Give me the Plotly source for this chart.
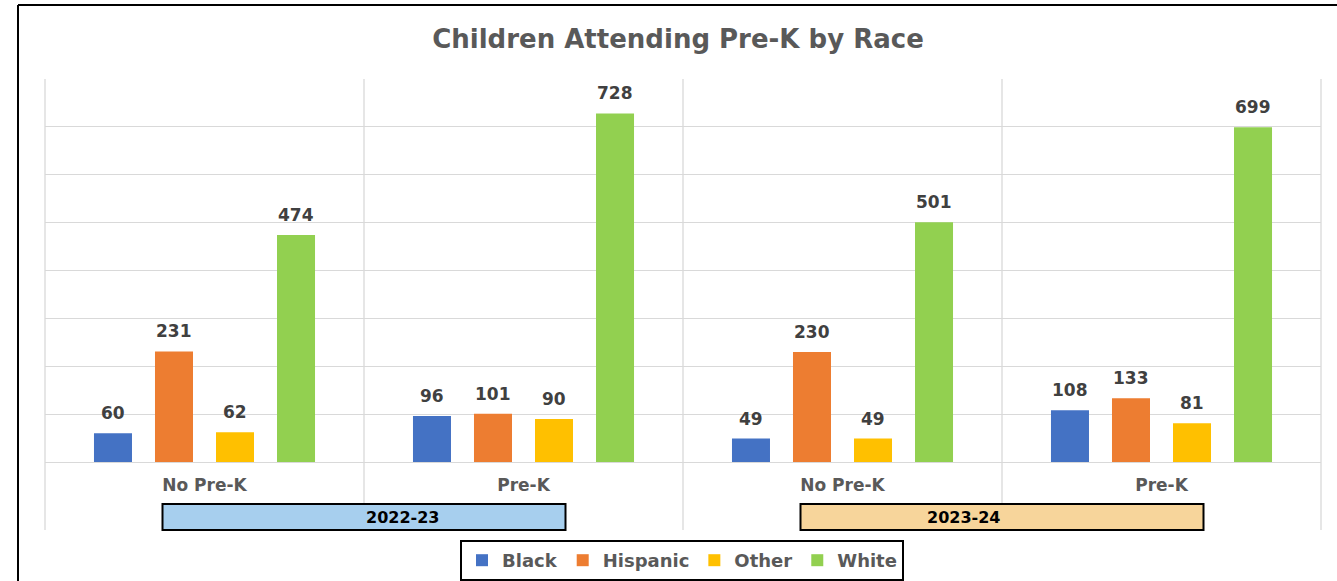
import plotly.graph_objects as go

# ---- data ----
categories = ["No Pre-K", "Pre-K", "No Pre-K", "Pre-K"]
years = ["2022-23", "2023-24"]
series_names = ["Black", "Hispanic", "Other", "White"]
black = [60, 96, 49, 108]
hispanic = [231, 101, 230, 133]
other = [62, 90, 49, 81]
white = [474, 728, 501, 699]
y_ticks = [0, 100, 200, 300, 400, 500, 600, 700, 800]

series_values = [black, hispanic, other, white]
colors = ["#4472C4", "#ED7D31", "#FFC000", "#92D050"]
year_fills = ["#A7CFEE", "#F7D59B"]

FONT = "DejaVu Sans"
GRAY = "#595959"
LABEL = "#404040"
GRID = "#D9D9D9"

W, H = 1337, 581
ML, MR, MT, MB = 45, 16, 79, 119
PW, PH = W - ML - MR, H - MT - MB

def px_x(px):
    return (px - ML) / PW

def px_y(py):
    return (H - MB - py) / PH

BARGAP = 0.235
BARGROUPGAP = 0.377
n_series = len(series_names)
slot = (1 - BARGAP) / n_series

x_pos = list(range(len(categories)))

fig = go.Figure()
for name, vals, col in zip(series_names, series_values, colors):
    fig.add_trace(go.Bar(
        x=x_pos, y=vals, name=name,
        marker=dict(color=col, line=dict(width=0)),
        hoverinfo="y+name",
    ))

annotations = []
# data labels
for j, vals in enumerate(series_values):
    for i, v in enumerate(vals):
        annotations.append(dict(
            x=i + (j - (n_series - 1) / 2) * slot, y=v, xref="x", yref="y",
            text=f"<b>{v}</b>", showarrow=False, yanchor="bottom", yshift=8,
            font=dict(family=FONT, size=17, color=LABEL),
        ))

shapes = []
# vertical separators between categories
n_cat = len(categories)
for k in range(n_cat + 1):
    shapes.append(dict(type="line", xref="paper", yref="paper",
                       x0=k / n_cat, x1=k / n_cat, y0=px_y(530), y1=1,
                       line=dict(color=GRID, width=1.3), layer="below"))

# year boxes
per_year = n_cat // len(years)
box_w = 403 / PW
for yi, (yr, fill) in enumerate(zip(years, year_fills)):
    cx = (yi * per_year + per_year / 2) / n_cat
    shapes.append(dict(type="rect", xref="paper", yref="paper",
                       x0=cx - box_w / 2, x1=cx + box_w / 2,
                       y0=px_y(530), y1=px_y(504),
                       fillcolor=fill, line=dict(color="black", width=2)))
    annotations.append(dict(x=cx, y=(px_y(530) + px_y(504)) / 2, xref="paper", yref="paper",
                            text=f"<b>{yr}</b>", showarrow=False, yanchor="middle",
                            font=dict(family=FONT, size=16, color="black")))

# outer frame (left and top edges visible)
shapes.append(dict(type="line", xref="paper", yref="paper",
                   x0=px_x(18), x1=px_x(18), y0=px_y(H + 5), y1=px_y(5),
                   line=dict(color="black", width=2)))
shapes.append(dict(type="line", xref="paper", yref="paper",
                   x0=px_x(18), x1=px_x(W + 5), y0=px_y(5), y1=px_y(5),
                   line=dict(color="black", width=2)))

fig.update_layout(
    width=W, height=H,
    margin=dict(l=ML, r=MR, t=MT, b=MB, autoexpand=False),
    paper_bgcolor="white", plot_bgcolor="white",
    barmode="group", bargap=BARGAP, bargroupgap=BARGROUPGAP,
    title=dict(text="<b>Children Attending Pre-K by Race</b>",
               x=px_x(678), xref="paper", xanchor="center",
               y=1 - 39 / H, yref="container", yanchor="middle",
               font=dict(family=FONT, size=26, color=GRAY)),
    xaxis=dict(tickmode="array", tickvals=x_pos, ticktext=[f"<b>{c}</b>" for c in categories],
               range=[-0.5, n_cat - 0.5], showgrid=False, zeroline=False, showline=False,
               ticks="", ticklabelstandoff=11, automargin=False,
               tickfont=dict(family=FONT, size=17, color=GRAY)),
    yaxis=dict(range=[y_ticks[0], y_ticks[-1]], tickvals=y_ticks, showticklabels=False,
               showgrid=True, gridcolor=GRID, gridwidth=1.3, automargin=False,
               zeroline=True, zerolinecolor=GRID, zerolinewidth=1.3, showline=False),
    legend=dict(orientation="h", x=px_x(682), xanchor="center", y=px_y(540), yanchor="top",
                bordercolor="black", borderwidth=2, bgcolor="white",
                font=dict(family=FONT, size=18, color=GRAY, weight="bold"),
                itemwidth=30, traceorder="normal", tracegroupgap=0),
    shapes=shapes,
    annotations=annotations,
    showlegend=True,
)

fig.write_html("out.html",
               config={"displayModeBar": False},
               post_script="document.body.style.margin='0px';document.body.style.overflow='hidden';")
